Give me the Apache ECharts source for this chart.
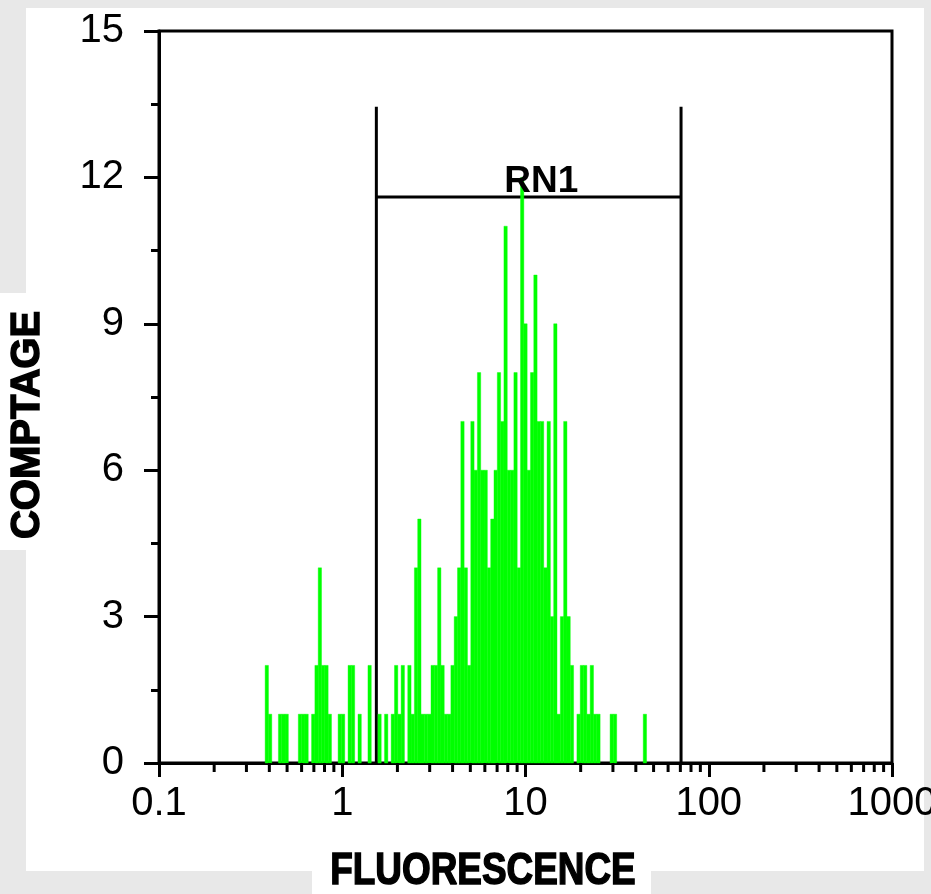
<!DOCTYPE html>
<html><head><meta charset="utf-8">
<script src="https://cdn.jsdelivr.net/npm/echarts@6/dist/echarts.min.js"></script>
<style>html,body{margin:0;padding:0;background:#e8e8e8}#c{width:931px;height:894px}</style>
</head><body><div id="c"></div>
<script>
// ---- data ----
const xRange = [0.1, 1000];
const yRange = [0, 15];
const yInterval = 3;
const xTickLabels = ['0.1', '1', '10', '100', '1000'];
const channelsTotal = 221;          // channels across the 4 decades
const firstChannel = 32;            // channel index of counts[0]
const counts = [
  2, 1, 0, 0, 1, 1, 1, 0, 0, 0,
  1, 1, 1, 0, 1, 2, 4, 2, 2, 1,
  0, 0, 1, 1, 0, 2, 2, 0, 1, 0,
  0, 2, 0, 0, 1, 0, 1, 0, 1, 2,
  1, 2, 0, 2, 1, 4, 5, 1, 1, 1,
  2, 2, 4, 2, 1, 1, 2, 3, 4, 7,
  4, 2, 7, 6, 8, 6, 6, 4, 5, 6,
  8, 7, 11, 6, 6, 8, 4, 12, 9, 6,
  8, 10, 7, 7, 4, 7, 3, 9, 1, 3,
  7, 3, 2, 0, 1, 2, 2, 1, 2, 1,
  1, 0, 0, 0, 1, 1, 0, 0, 0, 0,
  0, 0, 0, 0, 1
];
const gateRange = [1.535, 70.6];
const gateTop = 13.45;
const gateBar = 11.6;
const gateLabel = 'RN1';
const gateLabelAt = 12.2;
const xTitle = 'FLUORESCENCE';
const yTitle = 'COMPTAGE';

// ---- build ----
const decades = Math.log10(xRange[1] / xRange[0]);
const binEdge = i => xRange[0] * Math.pow(10, i * decades / channelsTotal);
const histData = [];
counts.forEach((c, k) => {
  if (c > 0) histData.push([binEdge(firstChannel + k), binEdge(firstChannel + k + 1), c]);
});
const minorVals = [];
for (let d = xRange[0]; d < xRange[1] - 1e-9; d *= 10) {
  for (let m = 2; m <= 9; m++) minorVals.push([+(d * m).toPrecision(6)]);
}
const gatePath = [
  [gateRange[0], 0], [gateRange[0], gateTop], [gateRange[0], gateBar],
  [gateRange[1], gateBar], [gateRange[1], gateTop], [gateRange[1], 0]
];

const tickFont = '"Liberation Sans", Arial, sans-serif';
const chart = echarts.init(document.getElementById('c'), null, {renderer: 'canvas'});
chart.setOption({
  animation: false,
  backgroundColor: '#e8e8e8',
  graphic: {elements: [
    {type: 'rect', z: -10, shape: {x: 26, y: 8, width: 898, height: 863}, style: {fill: '#ffffff'}},
    {type: 'rect', z: -10, shape: {x: 0, y: 293, width: 30, height: 257}, style: {fill: '#ffffff'}},
    {type: 'rect', z: -10, shape: {x: 312, y: 865, width: 339, height: 29}, style: {fill: '#ffffff'}},
    {type: 'text', z: 10, x: 28, y: 425, rotation: Math.PI / 2,
      style: {text: yTitle, fill: '#000', stroke: '#000', lineWidth: 1.5,
        font: 'bold 40px ' + tickFont, textAlign: 'center', textVerticalAlign: 'middle'}},
    {type: 'text', z: 10, x: 483, y: 872, scaleX: 0.82,
      style: {text: xTitle, fill: '#000', stroke: '#000', lineWidth: 1.5,
        font: 'bold 45px ' + tickFont, textAlign: 'center', textVerticalAlign: 'middle'}}
  ]},
  grid: {left: 159, right: 39, top: 31, bottom: 131, show: true, outerBoundsMode: 'none',
    containLabel: false, borderColor: '#000', borderWidth: 3, backgroundColor: 'transparent'},
  xAxis: {
    type: 'log', logBase: 10, min: xRange[0], max: xRange[1],
    axisLine: {show: true, lineStyle: {color: '#000', width: 3}},
    axisTick: {show: true, length: 14, lineStyle: {color: '#000', width: 3}},
    minorTick: {show: false},
    splitLine: {show: false},
    axisLabel: {color: '#000', fontFamily: tickFont, fontSize: 40, margin: 21,
      formatter: v => xTickLabels.find(t => Math.abs(Math.log10(+t) - Math.log10(v)) < 1e-6) || ''}
  },
  yAxis: {
    type: 'value', min: yRange[0], max: yRange[1], interval: yInterval,
    axisLine: {show: true, lineStyle: {color: '#000', width: 3}},
    axisTick: {show: true, length: 15, lineStyle: {color: '#000', width: 3}},
    minorTick: {show: true, splitNumber: 2, length: 8, lineStyle: {color: '#000', width: 3}},
    splitLine: {show: false},
    axisLabel: {color: '#000', fontFamily: tickFont, fontSize: 40, margin: 35}
  },
  series: [
    {
      type: 'line', name: 'gate', z: 3, data: gatePath, showSymbol: false, symbol: 'none',
      lineStyle: {color: '#000', width: 3}, silent: true
    },
    {
      type: 'custom', name: 'hist', z: 4, data: histData, encode: {x: [0, 1], y: 2},
      renderItem: (params, api) => {
        const p0 = api.coord([api.value(0), api.value(2)]);
        const p1 = api.coord([api.value(1), 0]);
        return {type: 'rect', shape: {x: p0[0], y: p0[1], width: p1[0] - p0[0], height: p1[1] - p0[1]},
          style: {fill: '#00ff00', stroke: '#00ff00', lineWidth: 0.4}};
      }
    },
    {
      type: 'custom', name: 'minorTicks', z: 5, data: minorVals, clip: false,
      renderItem: (params, api) => {
        const p = api.coord([api.value(0), 0]);
        return {type: 'line', shape: {x1: p[0], y1: p[1], x2: p[0], y2: p[1] + 9},
          style: {stroke: '#000', lineWidth: 3}};
      }
    },
    {
      type: 'scatter', name: 'gateLabel', z: 6, data: [[gateLabelAt, gateBar]], symbolSize: 0,
      itemStyle: {color: '#000', opacity: 1}, silent: true,
      label: {show: true, position: 'top', distance: 0, offset: [0, 3], formatter: gateLabel,
        color: '#000', opacity: 1, fontFamily: tickFont, fontWeight: 'bold', fontSize: 37}
    }
  ]
});
</script>
</body></html>
